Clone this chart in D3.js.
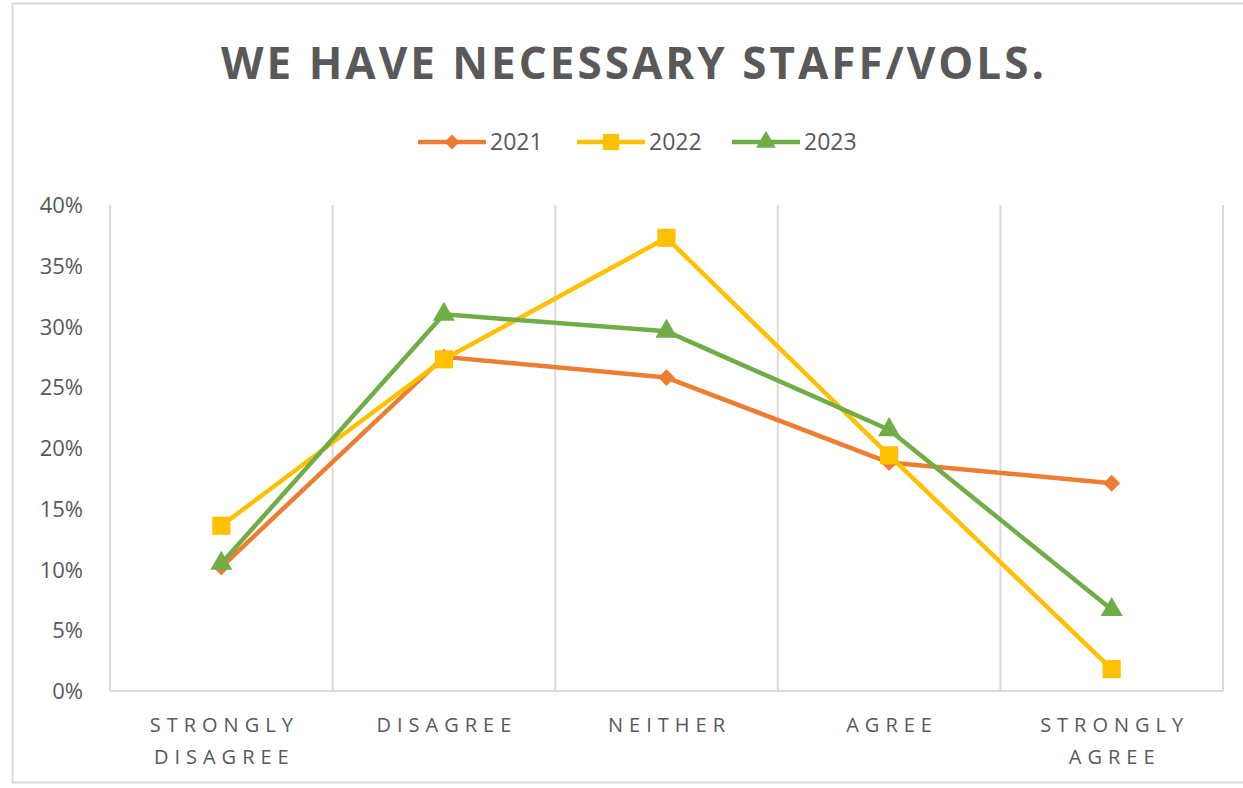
<!DOCTYPE html>
<html><head><meta charset="utf-8">
<script src="https://cdn.jsdelivr.net/npm/d3@7"></script>
<style>body{margin:0;background:#fff;} svg{display:block;}</style>
</head><body>
<svg id="chart" width="1243" height="788"></svg>
<script>
const categories = [["STRONGLY","DISAGREE"],["DISAGREE"],["NEITHER"],["AGREE"],["STRONGLY","AGREE"]];
const categoryKeys = ["Strongly Disagree","Disagree","Neither","Agree","Strongly Agree"];
const seriesNames = ["2021","2022","2023"];
const values2021 = [0.102, 0.275, 0.258, 0.188, 0.171];
const values2022 = [0.136, 0.273, 0.373, 0.194, 0.018];
const values2023 = [0.105, 0.310, 0.296, 0.215, 0.067];
const yTicks = [0,0.05,0.10,0.15,0.20,0.25,0.30,0.35,0.40];
const colors = ["#ED7D31","#FFC000","#70AD47"];
const symbols = [d3.symbolDiamond2, d3.symbolSquare, d3.symbolTriangle];
const symbolSizes = [180, 330, 210];

const seriesValues = [values2021, values2022, values2023];
const svg = d3.select("#chart");
const textColor = "#595959";
const font = "'Open Sans', sans-serif";

// outer border
svg.append("rect").attr("x",12.5).attr("y",3.5).attr("width",1240).attr("height",779)
  .attr("fill","none").attr("stroke","#d9d9d9").attr("stroke-width",2);

const pLeft=110, pRight=1223, pTop=205, pBottom=691;
const x = d3.scaleBand().domain(categoryKeys).range([pLeft,pRight]);
const y = d3.scaleLinear().domain([0,0.40]).range([pBottom,pTop]);

// vertical gridlines at band boundaries
const bounds = categoryKeys.map(k=>x(k)).concat([pRight]);
svg.append("g").selectAll("line").data(bounds).join("line")
  .attr("x1",d=>d).attr("x2",d=>d).attr("y1",pTop).attr("y2",pBottom)
  .attr("stroke","#d9d9d9").attr("stroke-width",2);
svg.append("line").attr("x1",pLeft).attr("x2",pRight).attr("y1",pBottom).attr("y2",pBottom)
  .attr("stroke","#d9d9d9").attr("stroke-width",2);

// y axis labels
const yAxis = d3.axisLeft(y).tickValues(yTicks).tickFormat(d3.format(".0%")).tickSize(0).tickPadding(0);
const gy = svg.append("g").attr("transform",`translate(${pLeft-27},0)`).call(yAxis);
gy.select(".domain").remove();
gy.selectAll("text").attr("fill",textColor).attr("font-family",font).attr("font-size",22).attr("dy","0.35em");

// x category labels
const xg = svg.append("g");
categories.forEach((lines,i)=>{
  const cx = x(categoryKeys[i]) + x.bandwidth()/2;
  const t = xg.append("text").attr("x",cx).attr("y",732).attr("text-anchor","middle")
    .attr("fill",textColor).attr("font-family",font).attr("font-size",20).attr("letter-spacing","6px");
  lines.forEach((l,j)=>{
    t.append("tspan").attr("x",cx+3).attr("dy",j===0?0:32).text(l);
  });
});

// lines and markers
const line = d3.line().x((d,i)=>x(categoryKeys[i])+x.bandwidth()/2).y(d=>y(d));
seriesValues.forEach((vals,s)=>{
  svg.append("path").datum(vals).attr("d",line).attr("fill","none")
    .attr("stroke",colors[s]).attr("stroke-width",4.5).attr("stroke-linejoin","round");
});
seriesValues.forEach((vals,s)=>{
  svg.append("g").selectAll("path").data(vals).join("path")
    .attr("d",d3.symbol().type(symbols[s]).size(symbolSizes[s]))
    .attr("transform",(d,i)=>`translate(${x(categoryKeys[i])+x.bandwidth()/2},${y(d)})`)
    .attr("fill",colors[s]);
});

// title
svg.append("text").attr("x",634).attr("y",79).attr("text-anchor","middle")
  .attr("fill",textColor).attr("font-family",font).attr("font-weight","bold")
  .attr("font-size",44).attr("letter-spacing","3px").text("WE HAVE NECESSARY STAFF/VOLS.");

// legend
const legendItems = [{x:418},{x:577},{x:732}];
const lg = svg.append("g");
seriesNames.forEach((n,s)=>{
  const x0 = legendItems[s].x;
  lg.append("line").attr("x1",x0).attr("x2",x0+68).attr("y1",142).attr("y2",142)
    .attr("stroke",colors[s]).attr("stroke-width",4.5);
  lg.append("path").attr("d",d3.symbol().type(symbols[s]).size(symbolSizes[s]*0.8))
    .attr("transform",`translate(${x0+34},142)`).attr("fill",colors[s]);
  lg.append("text").attr("x",x0+72).attr("y",142).attr("dy","0.35em")
    .attr("fill",textColor).attr("font-family",font).attr("font-size",23).text(n);
});
</script>
</body></html>
